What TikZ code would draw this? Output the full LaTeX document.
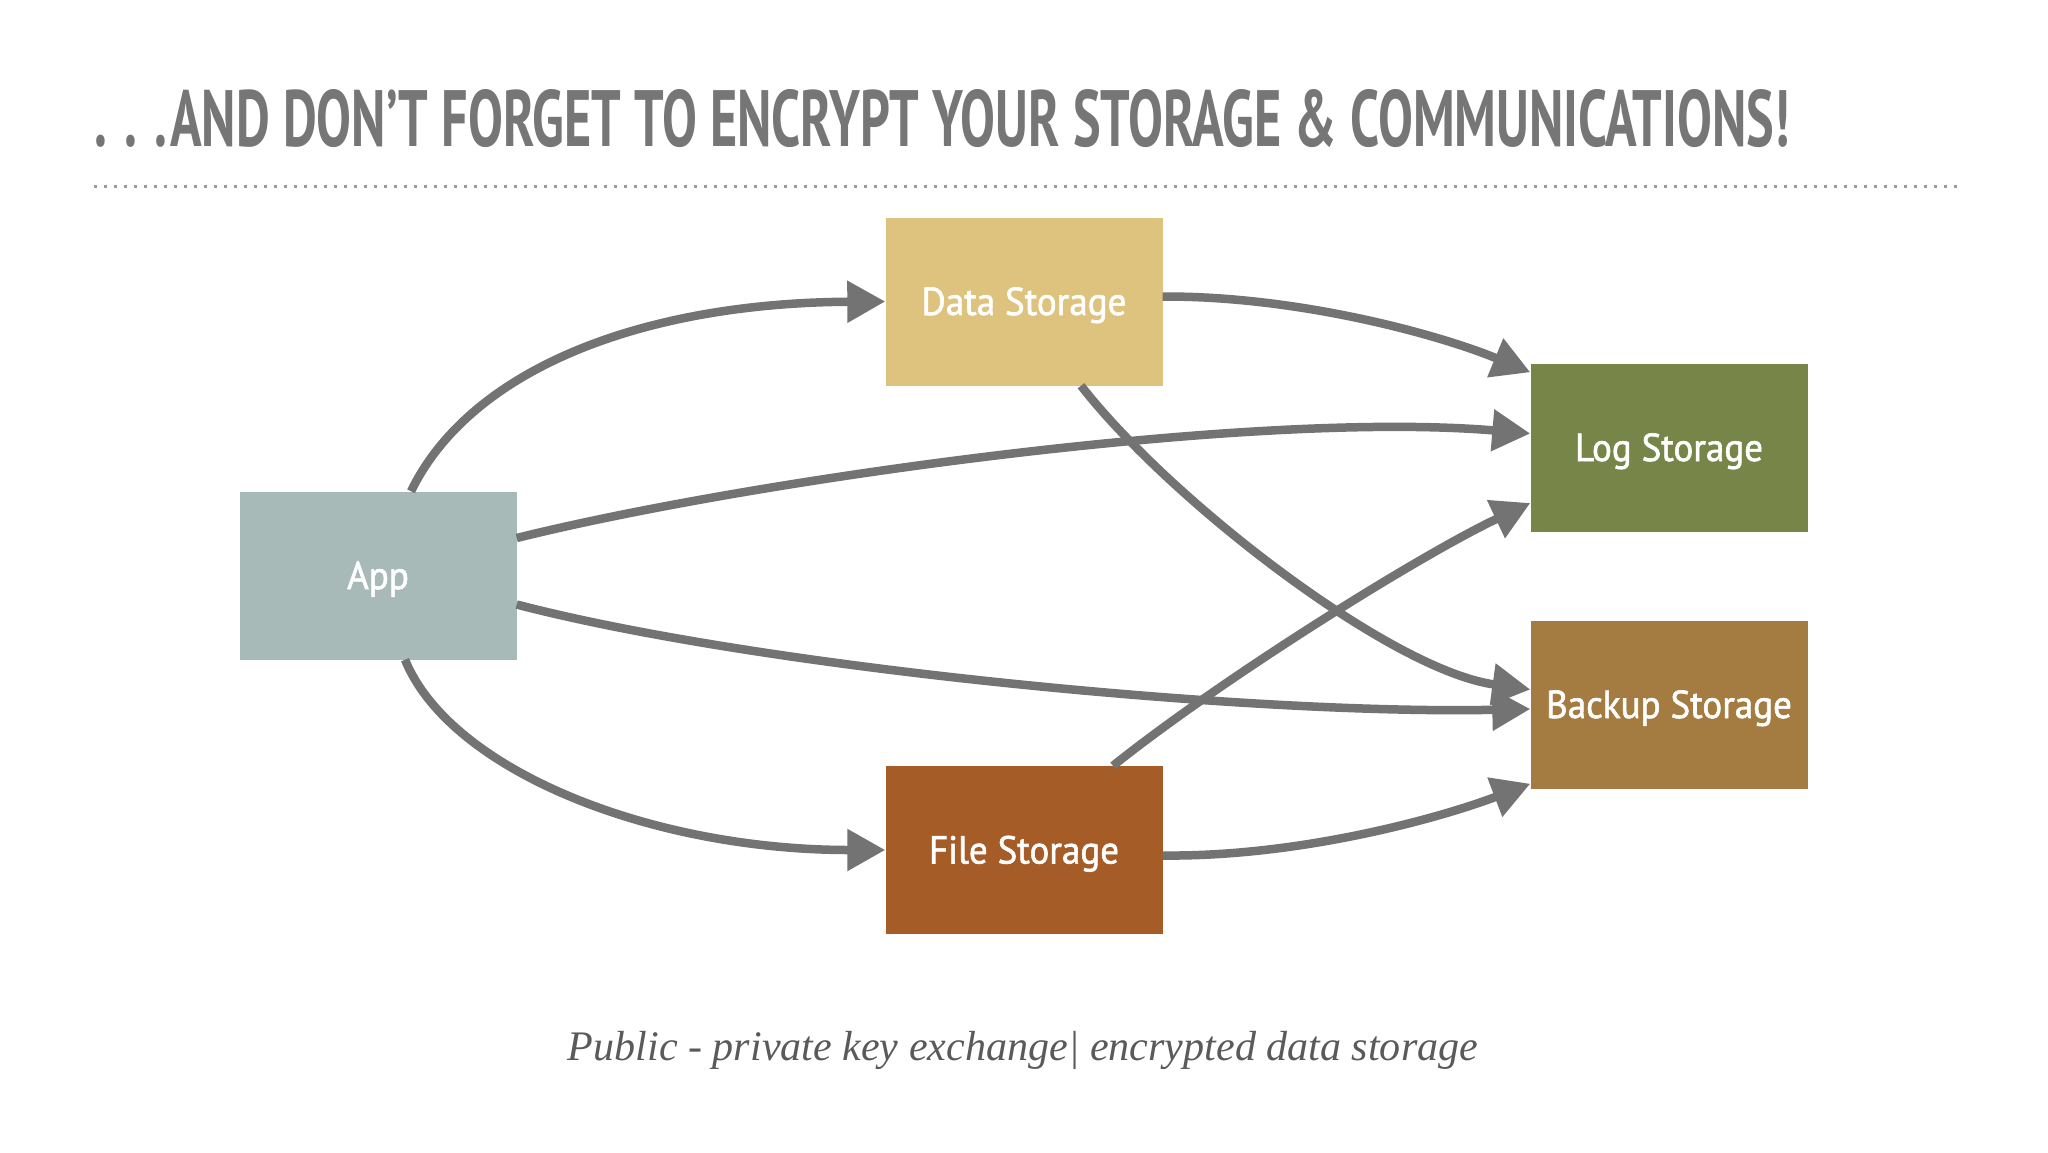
\documentclass[tikz,border=0pt]{standalone}
\usepackage{fontspec}
\usetikzlibrary{arrows.meta,calc}
\newfontfamily\titlefont{PT Sans}
\newfontfamily\labelfont[FakeStretch=0.95,FakeBold=1.5]{PT Sans}
\newfontfamily\capfont{Liberation Serif}
\definecolor{appc}{HTML}{A8BAB8}
\definecolor{datac}{HTML}{DEC37F}
\definecolor{logc}{HTML}{778648}
\definecolor{backc}{HTML}{A47B41}
\definecolor{filec}{HTML}{A65C26}
\definecolor{linec}{HTML}{737373}
\definecolor{titlec}{HTML}{767676}
\definecolor{capc}{HTML}{5A5A5A}
\definecolor{dotc}{HTML}{9A9A9A}
\begin{document}
\begin{tikzpicture}[x=1pt,y=-1pt,
  box/.style={rectangle,minimum width=277pt,minimum height=168pt,inner sep=0pt,
    text height=27pt,text depth=0pt,
    text=white,font=\labelfont\fontsize{39}{44}\selectfont},
  conn/.style={draw=linec,line width=8.5pt,-{Triangle[length=38pt,width=40pt]}}]
\useasboundingbox (0,0) rectangle (2048,1152);
\fill[white] (0,0) rectangle (2048,1152);
% title
\node[anchor=base west,inner sep=0pt,text=titlec] (title) at (94,146)
  {\resizebox{1695pt}{57pt}{\titlefont\bfseries .\hspace{0.33em}.\hspace{0.33em}.\hspace{0.06em}AND DON’T FORGET TO ENCRYPT YOUR STORAGE \& COMMUNICATIONS!}};
\coordinate (dl) at (94,186);
\coordinate (dr) at (1962,186);
\draw[dotc,line width=3pt,dash pattern=on 2.5pt off 7.5pt] (dl) -- (dr);
% boxes
\node[box,fill=appc] (app) at (378,575.5) {App};
\node[box,fill=datac] (data) at (1024,301.5) {Data Storage};
\node[box,fill=filec] (file) at (1024,850) {File Storage};
\node[box,fill=logc] (log) at (1669,447.5) {Log Storage};
\node[box,fill=backc] (back) at (1669,704.5) {Backup Storage};
% connectors
\draw[conn] ($(app.north)+(33,0)$) .. controls (470,370) and (640,303) .. (data.west);
\draw[conn] ($(app.east)+(0,-37.5)$) .. controls (750,480) and (1250,410) .. ($(log.west)+(0,-14)$);
\draw[conn] ($(app.east)+(0,29)$) .. controls (760,668) and (1250,715) .. ($(back.west)+(0,4.5)$);
\draw[conn] ($(app.south)+(27,0)$) .. controls (450,770) and (650,850) .. (file.west);
\draw[conn] ($(data.east)+(0,-5)$) .. controls (1300,296) and (1440,335) .. ($(log.north west)+(0,9)$);
\draw[conn] ($(data.south)+(57,0)$) .. controls (1170,500) and (1390,670) .. ($(back.west)+(0,-15)$);
\draw[conn] ($(file.north)+(89,0)$) .. controls (1220,680) and (1420,555) .. ($(log.west)+(0,55.5)$);
\draw[conn] ($(file.east)+(0,5.5)$) .. controls (1300,857) and (1440,818) .. ($(back.south west)+(0,-5)$);
% caption
\node[anchor=base,inner sep=0pt,text=capc] (cap) at (1023,1060)
  {\resizebox{910pt}{!}{\capfont\itshape\fontsize{40}{48}\selectfont Public - private key exchange| encrypted data storage}};
\end{tikzpicture}
\end{document}
